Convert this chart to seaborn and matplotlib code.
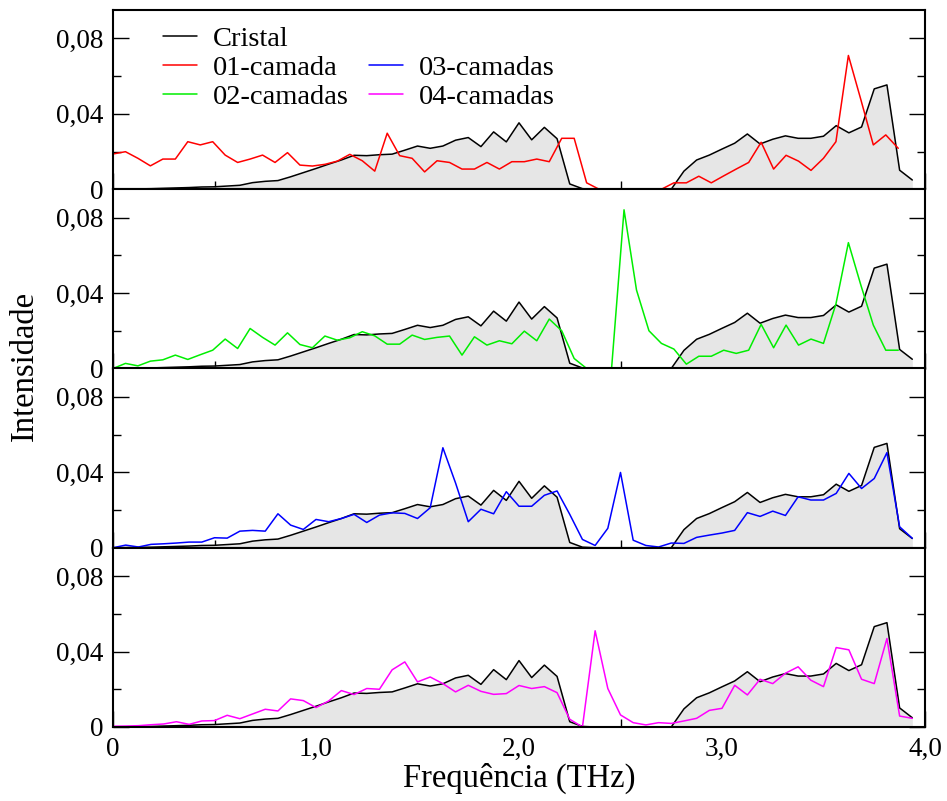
import numpy as np
import matplotlib
matplotlib.use("Agg")
import matplotlib.pyplot as plt
from matplotlib.lines import Line2D
from matplotlib.ticker import MultipleLocator, FixedLocator, FixedFormatter
import seaborn as sns

# Frequency grids (THz)
freq_cristal = np.arange(64) * 0.0625
freq_layers = np.arange(64) * 0.0614

# Phonon intensity of the bulk crystal
cristal = [0.0, 0.0001, 0.0002, 0.0003, 0.0005, 0.0007, 0.0009, 0.0012, 0.0013, 0.0017,
           0.0021, 0.0035, 0.0042, 0.0046, 0.0066, 0.0088, 0.0110, 0.0133, 0.0155, 0.0180,
           0.0178, 0.0183, 0.0186, 0.0207, 0.0229, 0.0217, 0.0229, 0.0260, 0.0274, 0.0226,
           0.0304, 0.0251, 0.0352, 0.0262, 0.0328, 0.0268, 0.0028, 0.0003, 0.0, 0.0,
           0.0, 0.0, 0.0, 0.0, 0.0, 0.0096, 0.0155, 0.0181, 0.0213, 0.0244,
           0.0293, 0.0240, 0.0265, 0.0283, 0.0270, 0.0270, 0.0281, 0.0337, 0.0299, 0.0330,
           0.0532, 0.0553, 0.0101, 0.0049]

camada_01 = [0.0187, 0.0199, 0.0164, 0.0124, 0.0160, 0.0160, 0.0252, 0.0235, 0.0252, 0.0181,
             0.0142, 0.0160, 0.0181, 0.0142, 0.0194, 0.0128, 0.0123, 0.0132, 0.0149, 0.0185,
             0.0151, 0.0096, 0.0297, 0.0178, 0.0164, 0.0092, 0.0151, 0.0142, 0.0107, 0.0107,
             0.0142, 0.0107, 0.0146, 0.0146, 0.0160, 0.0146, 0.0270, 0.0270, 0.0034, 0.0,
             0.0, 0.0, 0.0, 0.0, 0.0, 0.0034, 0.0034, 0.0069, 0.0034, 0.0071,
             0.0107, 0.0142, 0.0249, 0.0107, 0.0180, 0.0149, 0.0100, 0.0164, 0.0252, 0.0709,
             0.0475, 0.0235, 0.0288, 0.0217]

camadas_02 = [0.0, 0.0027, 0.0014, 0.0039, 0.0046, 0.0071, 0.0048, 0.0073, 0.0097, 0.0156,
              0.0106, 0.0212, 0.0165, 0.0124, 0.0189, 0.0127, 0.0110, 0.0172, 0.0150, 0.0163,
              0.0195, 0.0173, 0.0129, 0.0129, 0.0177, 0.0154, 0.0165, 0.0172, 0.0071, 0.0168,
              0.0124, 0.0147, 0.0131, 0.0198, 0.0147, 0.0262, 0.0200, 0.0053, 0.0, 0.0,
              0.0, 0.0841, 0.0416, 0.0200, 0.0133, 0.0103, 0.0023, 0.0065, 0.0065, 0.0097,
              0.0080, 0.0097, 0.0234, 0.0110, 0.0230, 0.0124, 0.0156, 0.0133, 0.0342, 0.0667,
              0.0442, 0.0230, 0.0097, 0.0097]

camadas_03 = [0.0, 0.0014, 0.0004, 0.0018, 0.0021, 0.0025, 0.0030, 0.0030, 0.0053, 0.0051,
              0.0088, 0.0092, 0.0088, 0.0180, 0.0120, 0.0097, 0.0150, 0.0138, 0.0155, 0.0177,
              0.0134, 0.0173, 0.0185, 0.0182, 0.0155, 0.0212, 0.0530, 0.0343, 0.0138, 0.0204,
              0.0180, 0.0297, 0.0220, 0.0220, 0.0278, 0.0301, 0.0177, 0.0044, 0.0012, 0.0103,
              0.0399, 0.0040, 0.0012, 0.0004, 0.0025, 0.0023, 0.0055, 0.0067, 0.0078, 0.0092,
              0.0186, 0.0166, 0.0194, 0.0171, 0.0270, 0.0253, 0.0253, 0.0288, 0.0394, 0.0314,
              0.0367, 0.0504, 0.0111, 0.0050]

camadas_04 = [0.0004, 0.0005, 0.0007, 0.0012, 0.0016, 0.0028, 0.0014, 0.0032, 0.0034, 0.0062,
              0.0044, 0.0069, 0.0094, 0.0085, 0.0149, 0.0140, 0.0103, 0.0138, 0.0193, 0.0172,
              0.0204, 0.0200, 0.0303, 0.0345, 0.0239, 0.0265, 0.0230, 0.0186, 0.0221, 0.0189,
              0.0173, 0.0177, 0.0220, 0.0204, 0.0214, 0.0182, 0.0041, 0.0, 0.0510, 0.0204,
              0.0064, 0.0023, 0.0011, 0.0023, 0.0019, 0.0032, 0.0046, 0.0088, 0.0099, 0.0221,
              0.0170, 0.0253, 0.0230, 0.0285, 0.0319, 0.0248, 0.0214, 0.0421, 0.0409, 0.0253,
              0.0230, 0.0469, 0.0058, 0.0046]

series_labels = ["01-camada", "02-camadas", "03-camadas", "04-camadas"]
series_values = [camada_01, camadas_02, camadas_03, camadas_04]
series_freqs = [freq_layers, freq_layers, freq_cristal, freq_cristal]
series_colors = ["#ff0000", "#00ee00", "#0000ff", "#ff00ff"]

y_ticks = [0.0, 0.04, 0.08]
y_tick_labels = ["0", "0,04", "0,08"]
x_ticks = [0.0, 1.0, 2.0, 3.0, 4.0]
x_tick_labels = ["0", "1,0", "2,0", "3,0", "4,0"]

sns.set_style("ticks")
plt.rcParams["font.family"] = ["Liberation Serif", "DejaVu Serif"]
for key in ("text.color", "axes.labelcolor", "xtick.color", "ytick.color", "axes.edgecolor"):
    plt.rcParams[key] = "black"
FS = 19.5
FS_LEG = 20.5
FS_LABEL = 23.5

fig = plt.figure(figsize=(9.47, 8.01), dpi=100)
axes = fig.subplots(4, 1, sharex=True, gridspec_kw=dict(hspace=0))
fig.subplots_adjust(left=113 / 947, right=925 / 947, bottom=74 / 801, top=1 - 10 / 801)

for ax, vals, fr, col in zip(axes, series_values, series_freqs, series_colors):
    ax.fill_between(freq_cristal, cristal, 0, color="#e6e6e6", linewidth=0, zorder=1)
    sns.lineplot(x=freq_cristal, y=cristal, ax=ax, color="black", linewidth=1.1,
                 estimator=None, sort=False, zorder=3)
    sns.lineplot(x=fr, y=vals, ax=ax, color=col, linewidth=1.1,
                 estimator=None, sort=False, zorder=4)
    ax.set_xlim(0, 4.0)
    ax.set_ylim(0, 0.095)
    ax.yaxis.set_major_locator(FixedLocator(y_ticks))
    ax.yaxis.set_major_formatter(FixedFormatter(y_tick_labels))
    ax.yaxis.set_minor_locator(MultipleLocator(0.02))
    ax.xaxis.set_major_locator(FixedLocator(x_ticks))
    ax.xaxis.set_major_formatter(FixedFormatter(x_tick_labels))
    ax.xaxis.set_minor_locator(MultipleLocator(0.5))
    ax.tick_params(which="both", direction="in", left=True, right=True, top=False,
                   bottom=True, labelsize=FS, width=1.0, color="black",
                   labelcolor="black", pad=7)
    ax.tick_params(which="major", length=11.5)
    ax.tick_params(which="minor", length=5.5)
    for sp in ax.spines.values():
        sp.set_linewidth(1.5)
        sp.set_color("black")
        sp.set_zorder(5)
    ax.set_xlabel("")
    ax.set_ylabel("")

handles = [Line2D([], [], color="black", lw=1.1, label="Cristal"),
           Line2D([], [], color=series_colors[0], lw=1.1, label=series_labels[0]),
           Line2D([], [], color=series_colors[1], lw=1.1, label=series_labels[1]),
           Line2D([], [], color="none", lw=0, label=" "),
           Line2D([], [], color=series_colors[2], lw=1.1, label=series_labels[2]),
           Line2D([], [], color=series_colors[3], lw=1.1, label=series_labels[3])]
axes[0].legend(handles=handles, ncol=2, loc="upper left",
               bbox_to_anchor=((163 - 113) / 812, 0.91), frameon=False,
               fontsize=FS_LEG, handlelength=1.2, handletextpad=0.55,
               columnspacing=0.7, labelspacing=0.1, borderpad=0, borderaxespad=0,
               labelcolor="black")

fig.text(25 / 947, 1 - 366 / 801, "Intensidade", rotation=90, ha="center", va="center",
         fontsize=FS_LABEL, color="black")
fig.text(519 / 947, 1 - 778 / 801, "Frequência (THz)", ha="center", va="center",
         fontsize=FS_LABEL, color="black")

fig.savefig("out.png", dpi=100)
